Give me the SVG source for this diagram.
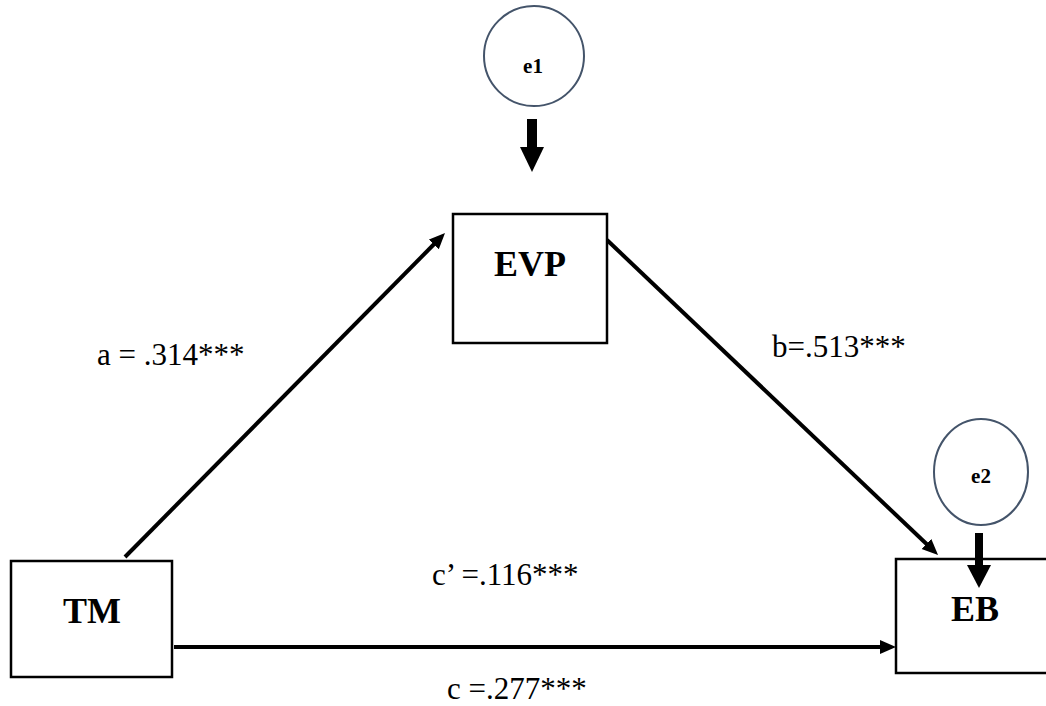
<svg xmlns="http://www.w3.org/2000/svg" width="1046" height="706" viewBox="0 0 1046 706">
<style>
.box{fill:#fff;stroke:#000;stroke-width:2.5}
.err{fill:#fff;stroke:#44546a;stroke-width:2}
.node{font-family:'Liberation Serif','DejaVu Serif',serif;font-weight:bold;font-size:36px;fill:#000;text-anchor:middle}
.etxt{font-family:'Liberation Serif','DejaVu Serif',serif;font-weight:bold;font-size:21px;fill:#000;text-anchor:middle}
.lbl{font-family:'Liberation Serif','DejaVu Serif',serif;font-size:31px;fill:#000}
.conn{stroke:#000;stroke-width:4;fill:none;marker-end:url(#ah)}
.blk{fill:#000;stroke:none}
</style>
<defs>
<marker id="ah" markerUnits="userSpaceOnUse" markerWidth="18" markerHeight="16" refX="2" refY="7" orient="auto">
<path d="M0,0 L16,7 L0,14 z" fill="#000"/>
</marker>
</defs>
<rect width="1046" height="706" fill="#fff"/>
<g id="connectors">
<line class="conn" x1="125" y1="557" x2="435.2" y2="243"/>
<line class="conn" x1="607" y1="240" x2="927.9" y2="545.3"/>
<line class="conn" x1="174" y1="647" x2="882" y2="647"/>
</g>
<g id="EVP">
<rect class="box" x="453" y="214" width="154" height="129"/>
<text class="node" x="530" y="276">EVP</text>
</g>
<g id="TM">
<rect class="box" x="11" y="561" width="161" height="116"/>
<text class="node" x="92" y="623">TM</text>
</g>
<g id="EB">
<rect class="box" x="896" y="559" width="160" height="114"/>
<text class="node" x="975" y="621">EB</text>
</g>
<g id="e1">
<circle class="err" cx="534" cy="56" r="50"/>
<text class="etxt" x="533" y="73">e1</text>
<rect class="blk" x="527" y="119" width="10" height="29"/>
<polygon class="blk" points="520,147 544,147 532,172"/>
</g>
<g id="e2">
<ellipse class="err" cx="981" cy="472" rx="47" ry="53"/>
<text class="etxt" x="981" y="483">e2</text>
<rect class="blk" x="975" y="533" width="8" height="33"/>
<polygon class="blk" points="967,565 991,565 979,588"/>
</g>
<g id="labels">
<text class="lbl" x="97" y="365">a = .314***</text>
<text class="lbl" x="772" y="357">b=.513***</text>
<text class="lbl" x="432" y="585">c’ =.116***</text>
<text class="lbl" x="447" y="699">c =.277***</text>
</g>
</svg>
